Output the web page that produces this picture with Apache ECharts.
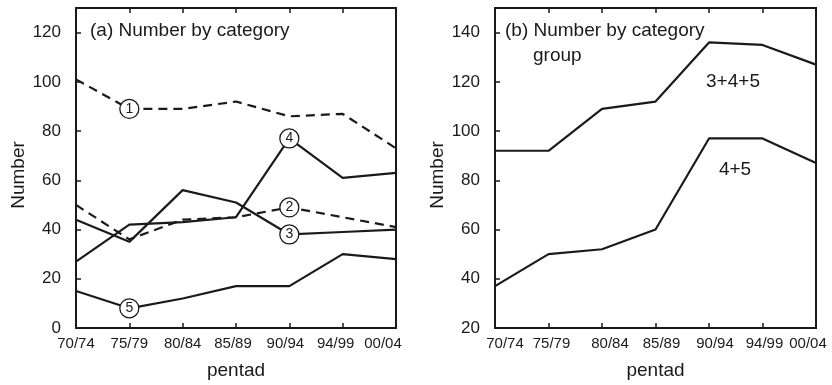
<!DOCTYPE html>
<html>
<head>
<meta charset="utf-8">
<script src="https://cdn.jsdelivr.net/npm/echarts@6/dist/echarts.min.js"></script>
<style>
  html, body { margin: 0; padding: 0; background: #fff; }
  #chart { width: 832px; height: 385px; }
</style>
</head>
<body>
<div id="chart"></div>
<script>
const pentads = ['70/74', '75/79', '80/84', '85/89', '90/94', '94/99', '00/04']

// panel (a): number by category
const cat1 = [101, 89, 89, 92, 86, 87, 73]
const cat2 = [50, 36, 44, 45, 49, 45, 41]
const cat3 = [44, 35, 56, 51, 38, 39, 40]
const cat4 = [27, 42, 43, 45, 77, 61, 63]
const cat5 = [15, 8, 12, 17, 17, 30, 28]
// which point of each category carries the circled number
const catMarkAt = [1, 4, 4, 4, 1]

// panel (b): number by category group
const group345 = [92, 92, 109, 112, 136, 135, 127]
const group45 = [37, 50, 52, 60, 97, 97, 87]

const leftRange = [0, 130]
const rightRange = [20, 150]
const yStep = 20

const FONT = "'Liberation Sans', Arial, sans-serif"
const INK = '#1a1a1a'

// the printed labels don't sit exactly under their ticks; nudge them (px, + = right)
const leftLabelShift = [0, 0, 0, -3, -4, -7, -13]
const rightLabelShift = [10, 3, 8, 6, 6, 2, -8]

const chart = echarts.init(document.getElementById('chart'))

function withMark(values, idx, text) {
  return values.map((v, i) => {
    if (i !== idx) return v
    return {
      value: v,
      symbol: 'circle',
      symbolSize: 19,
      itemStyle: { color: '#fff', borderColor: INK, borderWidth: 1.3 },
      label: {
        show: true, position: 'inside', formatter: text,
        fontSize: 14, color: INK, fontFamily: FONT
      }
    }
  })
}

function catSeries(values, n, dashed) {
  return {
    type: 'line',
    xAxisIndex: 0, yAxisIndex: 0,
    data: withMark(values, catMarkAt[n - 1], String(n)),
    symbol: 'none',
    showSymbol: true,
    lineStyle: { color: INK, width: 2.2, type: dashed ? [9, 6] : 'solid' },
    silent: true,
    z: 3
  }
}

function xAxes(grid, shifts) {
  const rich = {}
  shifts.forEach((s, i) => {
    rich['p' + i] = {
      fontSize: 15, color: INK, fontFamily: FONT,
      padding: s >= 0 ? [0, 0, 0, 2 * s] : [0, -2 * s, 0, 0]
    }
  })
  const bottom = {
    type: 'category', gridIndex: grid, data: pentads, boundaryGap: false,
    axisLine: { lineStyle: { color: INK, width: 2 } },
    axisTick: { inside: true, interval: 0, length: 5, lineStyle: { color: INK, width: 1.5 } },
    axisLabel: {
      interval: 0, fontSize: 15, color: INK, margin: 8,
      formatter: (v, i) => '{p' + i + '|' + v + '}',
      rich
    },
    splitLine: { show: false },
    name: 'pentad', nameLocation: 'middle', nameGap: 33,
    nameTextStyle: { fontSize: 19, color: INK }
  }
  const top = {
    type: 'category', gridIndex: grid, data: pentads, boundaryGap: false,
    position: 'top',
    axisLine: { lineStyle: { color: INK, width: 2 } },
    axisTick: { inside: true, interval: 0, length: 5, lineStyle: { color: INK, width: 1.5 } },
    axisLabel: { show: false },
    splitLine: { show: false }
  }
  return [bottom, top]
}

function yAxis(grid, range) {
  return {
    type: 'value', gridIndex: grid,
    min: range[0], max: range[1], interval: yStep,
    axisLine: { show: true, lineStyle: { color: INK, width: 2 } },
    axisTick: { show: true, inside: true, length: 5, lineStyle: { color: INK, width: 1.5 } },
    axisLabel: { fontSize: 17, color: INK, margin: 15, showMaxLabel: false },
    splitLine: { show: false },
    name: 'Number', nameLocation: 'middle', nameGap: 46,
    nameTextStyle: { fontSize: 19, color: INK, padding: [0, 14, 0, 0] }
  }
}

const option = {
  animation: false,
  textStyle: { fontFamily: FONT },
  grid: [
    { left: 76, top: 8, width: 320, height: 324, show: true, borderColor: INK, borderWidth: 2 },
    { left: 495, top: 8, width: 321, height: 324, show: true, borderColor: INK, borderWidth: 2 }
  ],
  xAxis: [...xAxes(0, leftLabelShift), ...xAxes(1, rightLabelShift)],
  yAxis: [yAxis(0, leftRange), yAxis(1, rightRange)],
  graphic: [
    { type: 'text', x: 90, y: 31, style: { text: '(a) Number by category', font: '19px ' + FONT, fill: INK, textVerticalAlign: 'middle' } },
    { type: 'text', x: 505, y: 31, style: { text: '(b) Number by category', font: '19px ' + FONT, fill: INK, textVerticalAlign: 'middle' } },
    { type: 'text', x: 533, y: 56, style: { text: 'group', font: '19px ' + FONT, fill: INK, textVerticalAlign: 'middle' } },
    { type: 'text', x: 733, y: 82, style: { text: '3+4+5', font: '19px ' + FONT, fill: INK, textAlign: 'center', textVerticalAlign: 'middle' } },
    { type: 'text', x: 735, y: 170, style: { text: '4+5', font: '19px ' + FONT, fill: INK, textAlign: 'center', textVerticalAlign: 'middle' } }
  ],
  series: [
    catSeries(cat1, 1, true),
    catSeries(cat2, 2, true),
    catSeries(cat3, 3, false),
    catSeries(cat4, 4, false),
    catSeries(cat5, 5, false),
    {
      type: 'line', xAxisIndex: 2, yAxisIndex: 1, data: group345,
      symbol: 'none', silent: true,
      lineStyle: { color: INK, width: 2.2 }
    },
    {
      type: 'line', xAxisIndex: 2, yAxisIndex: 1, data: group45,
      symbol: 'none', silent: true,
      lineStyle: { color: INK, width: 2.2 }
    }
  ]
}

chart.setOption(option)
</script>
</body>
</html>
